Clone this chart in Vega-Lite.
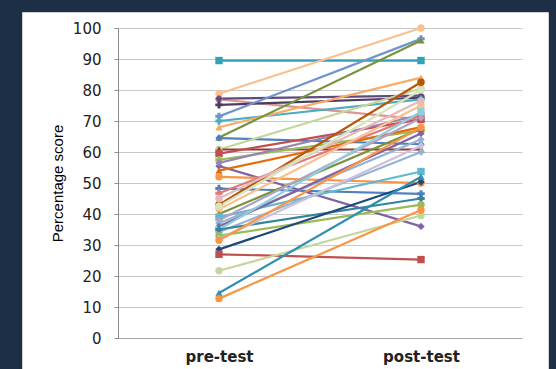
{
  "$schema": "https://vega.github.io/schema/vega-lite/v6.json",
  "width": 526,
  "height": 357,
  "autosize": {"type": "none"},
  "padding": {"left": 22, "top": 12, "right": 8, "bottom": 0},
  "background": "#1d2f47",
  "config": {
    "view": {"fill": "white", "stroke": "#d0d0d0"},
    "axis": {"labelFont": "DejaVu Sans", "labelColor": "#222222", "domainColor": "#8c8c8c", "tickColor": "#8c8c8c", "gridColor": "#c8c8c8"}
  },
  "datasets": {
    "scores": [
      {"s": "S01", "test": "pre-test", "score": 89.5}, {"s": "S01", "test": "post-test", "score": 89.5},
      {"s": "S02", "test": "pre-test", "score": 78.8}, {"s": "S02", "test": "post-test", "score": 100},
      {"s": "S03", "test": "pre-test", "score": 77.0}, {"s": "S03", "test": "post-test", "score": 70.5},
      {"s": "S04", "test": "pre-test", "score": 77.2}, {"s": "S04", "test": "post-test", "score": 78.2},
      {"s": "S05", "test": "pre-test", "score": 75.2}, {"s": "S05", "test": "post-test", "score": 77.5},
      {"s": "S06", "test": "pre-test", "score": 71.5}, {"s": "S06", "test": "post-test", "score": 96.5},
      {"s": "S07", "test": "pre-test", "score": 70.0}, {"s": "S07", "test": "post-test", "score": 77.0},
      {"s": "S08", "test": "pre-test", "score": 68.0}, {"s": "S08", "test": "post-test", "score": 84.0},
      {"s": "S09", "test": "pre-test", "score": 64.7}, {"s": "S09", "test": "post-test", "score": 96.0},
      {"s": "S10", "test": "pre-test", "score": 64.5}, {"s": "S10", "test": "post-test", "score": 62.5},
      {"s": "S11", "test": "pre-test", "score": 60.8}, {"s": "S11", "test": "post-test", "score": 80.5},
      {"s": "S12", "test": "pre-test", "score": 60.8}, {"s": "S12", "test": "post-test", "score": 60.8},
      {"s": "S13", "test": "pre-test", "score": 59.5}, {"s": "S13", "test": "post-test", "score": 70.5},
      {"s": "S14", "test": "pre-test", "score": 57.5}, {"s": "S14", "test": "post-test", "score": 67.0},
      {"s": "S15", "test": "pre-test", "score": 55.5}, {"s": "S15", "test": "post-test", "score": 36.0},
      {"s": "S16", "test": "pre-test", "score": 56.5}, {"s": "S16", "test": "post-test", "score": 72.0},
      {"s": "S17", "test": "pre-test", "score": 54.0}, {"s": "S17", "test": "post-test", "score": 68.0},
      {"s": "S18", "test": "pre-test", "score": 52.0}, {"s": "S18", "test": "post-test", "score": 50.0},
      {"s": "S19", "test": "pre-test", "score": 48.2}, {"s": "S19", "test": "post-test", "score": 46.5},
      {"s": "S20", "test": "pre-test", "score": 46.7}, {"s": "S20", "test": "post-test", "score": 72.0},
      {"s": "S21", "test": "pre-test", "score": 43.0}, {"s": "S21", "test": "post-test", "score": 82.5},
      {"s": "S22", "test": "pre-test", "score": 41.5}, {"s": "S22", "test": "post-test", "score": 75.0},
      {"s": "S23", "test": "pre-test", "score": 40.0}, {"s": "S23", "test": "post-test", "score": 67.5},
      {"s": "S24", "test": "pre-test", "score": 39.0}, {"s": "S24", "test": "post-test", "score": 53.7},
      {"s": "S25", "test": "pre-test", "score": 38.0}, {"s": "S25", "test": "post-test", "score": 71.0},
      {"s": "S26", "test": "pre-test", "score": 37.0}, {"s": "S26", "test": "post-test", "score": 64.0},
      {"s": "S27", "test": "pre-test", "score": 36.0}, {"s": "S27", "test": "post-test", "score": 66.0},
      {"s": "S28", "test": "pre-test", "score": 35.0}, {"s": "S28", "test": "post-test", "score": 73.0},
      {"s": "S29", "test": "pre-test", "score": 34.2}, {"s": "S29", "test": "post-test", "score": 60.0},
      {"s": "S30", "test": "pre-test", "score": 35.0}, {"s": "S30", "test": "post-test", "score": 45.0},
      {"s": "S31", "test": "pre-test", "score": 33.0}, {"s": "S31", "test": "post-test", "score": 43.0},
      {"s": "S32", "test": "pre-test", "score": 32.0}, {"s": "S32", "test": "post-test", "score": 62.0},
      {"s": "S33", "test": "pre-test", "score": 31.5}, {"s": "S33", "test": "post-test", "score": 68.0},
      {"s": "S34", "test": "pre-test", "score": 28.6}, {"s": "S34", "test": "post-test", "score": 50.3},
      {"s": "S35", "test": "pre-test", "score": 27.0}, {"s": "S35", "test": "post-test", "score": 25.3},
      {"s": "S36", "test": "pre-test", "score": 21.7}, {"s": "S36", "test": "post-test", "score": 39.5},
      {"s": "S37", "test": "pre-test", "score": 14.5}, {"s": "S37", "test": "post-test", "score": 52.0},
      {"s": "S38", "test": "pre-test", "score": 12.7}, {"s": "S38", "test": "post-test", "score": 41.3},
      {"s": "S39", "test": "pre-test", "score": 45.0}, {"s": "S39", "test": "post-test", "score": 76.5},
      {"s": "S40", "test": "pre-test", "score": 42.5}, {"s": "S40", "test": "post-test", "score": 80.0}
    ]
  },
  "data": {"name": "scores"},
  "encoding": {
    "x": {
      "field": "test", "type": "nominal", "sort": ["pre-test", "post-test"],
      "scale": {"type": "point", "range": [96, 500], "padding": 0.5},
      "axis": {"title": null, "orient": "bottom", "offset": -31, "ticks": false, "labelPadding": 11, "labelFontSize": 15, "labelFontWeight": "bold", "labelAngle": 0, "grid": false, "domainColor": "#a6a6a6"}
    },
    "y": {
      "field": "score", "type": "quantitative",
      "scale": {"domain": [0, 100], "range": [326, 16], "nice": false},
      "axis": {"title": "Percentage score", "titleFont": "Liberation Sans", "titleFontSize": 15, "titleFontWeight": "normal", "titleColor": "#000000", "offset": -96, "values": [0, 10, 20, 30, 40, 50, 60, 70, 80, 90, 100], "labelFontSize": 15, "labelPadding": 13, "tickSize": 4, "titlePadding": 7, "grid": true}
    },
    "color": {
      "field": "s", "type": "nominal", "legend": null,
      "scale": {"domain": ["S01","S02","S03","S04","S05","S06","S07","S08","S09","S10","S11","S12","S13","S14","S15","S16","S17","S18","S19","S20","S21","S22","S23","S24","S25","S26","S27","S28","S29","S30","S31","S32","S33","S34","S35","S36","S37","S38","S39","S40"],
        "range": ["#31a0b8","#fac090","#d99694","#604a7b","#4d3b62","#6f94cc","#4bacc6","#f9ab6b","#77933c","#4f81bd","#c3d69b","#953735","#c0504d","#9bbb59","#8064a2","#9983b5","#e46c0a","#f79646","#4f81bd","#e0787a","#b65708","#fac090","#77933c","#5fb8d0","#b3a2c7","#95b3d7","#8064a2","#93cddd","#95b3d7","#31859c","#9bbb59","#ccc1da","#f79646","#1f497d","#c0504d","#c3d69b","#2e8fb0","#f79646","#e6b9b8","#d7e4bd"]}
    },
    "detail": {"field": "s"}
  },
  "layer": [
    {
      "mark": {"type": "line", "strokeWidth": 2.2},
      "encoding": {
        "strokeWidth": {"condition": {"test": "datum.s === 'S01'", "value": 3.5}, "value": 2.2}
      }
    },
    {
      "mark": {"type": "point", "filled": true, "opacity": 1, "size": 55},
      "encoding": {
        "shape": {
          "field": "s", "type": "nominal", "legend": null,
          "scale": {"range": ["square","circle","circle","diamond","cross","cross","cross","triangle-up","triangle-up","diamond","circle","triangle-up","square","cross","diamond","diamond","triangle-up","circle","cross","cross","circle","circle","triangle-up","square","diamond","diamond","diamond","square","diamond","cross","circle","diamond","circle","diamond","square","circle","triangle-up","circle","circle","circle"]}
        }
      }
    }
  ]
}
